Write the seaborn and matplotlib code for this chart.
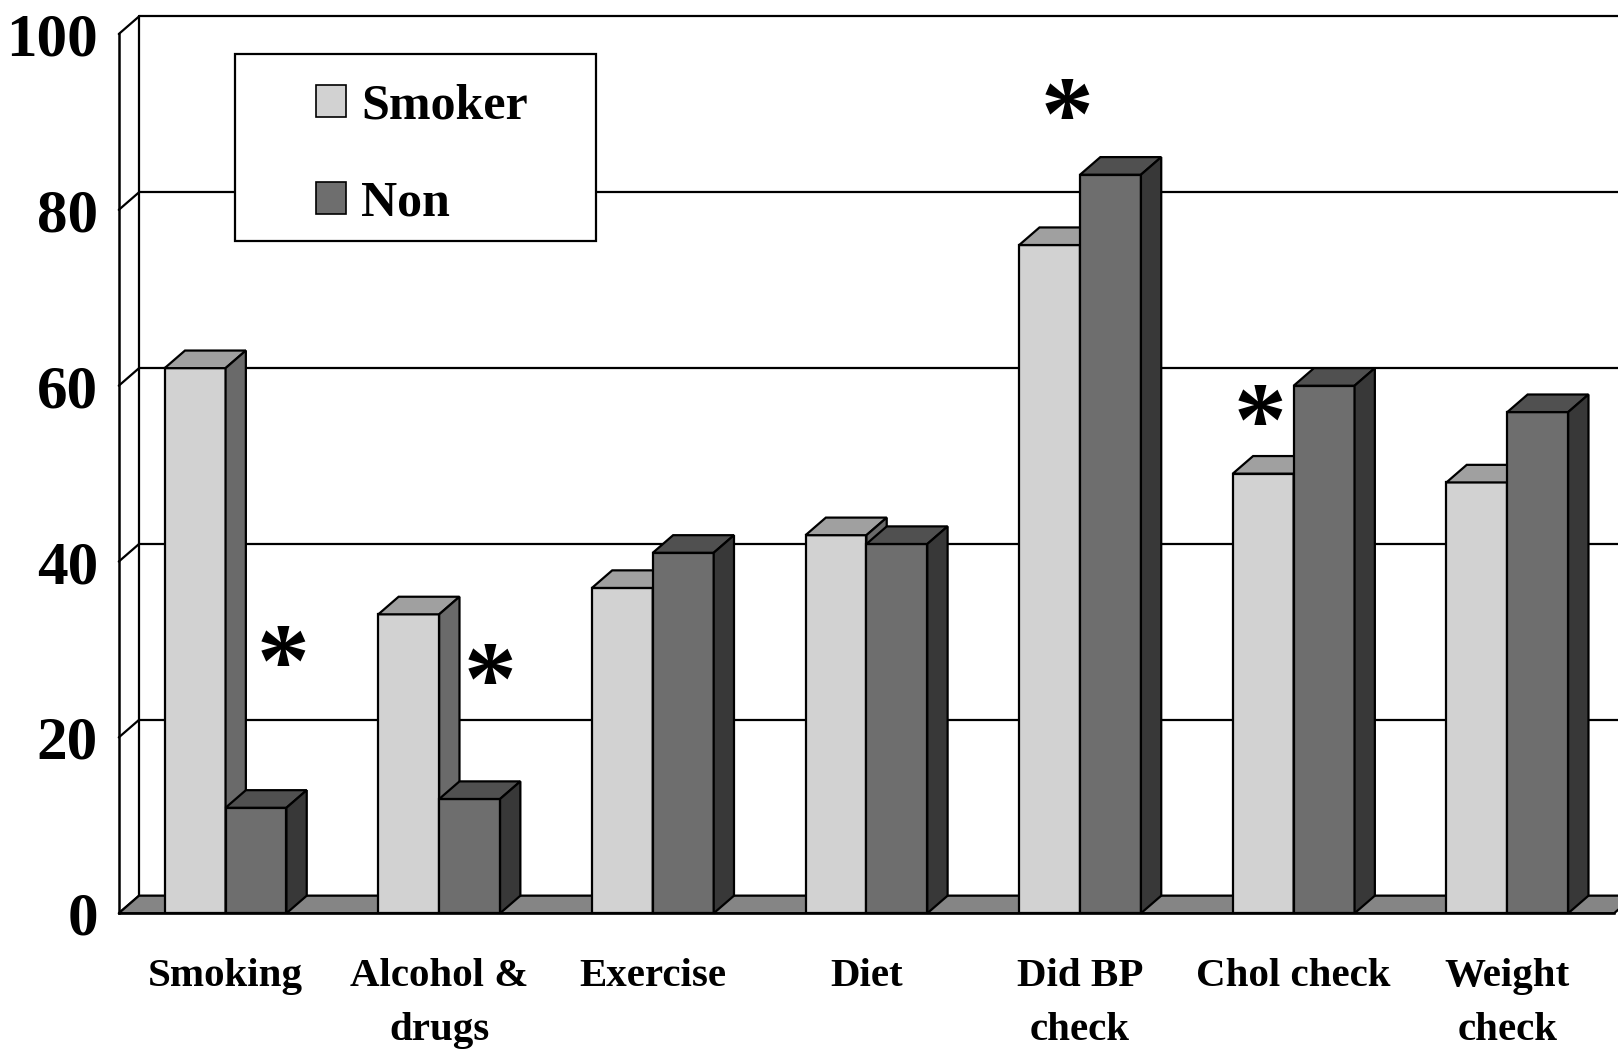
import matplotlib
matplotlib.use("Agg")
import matplotlib.pyplot as plt
import numpy as np
import pandas as pd
import seaborn as sns
from matplotlib.patches import Polygon, Rectangle, Patch

categories = ["Smoking", "Alcohol &\ndrugs", "Exercise", "Diet",
              "Did BP\ncheck", "Chol check", "Weight\ncheck"]
smoker = [62, 34, 37, 43, 76, 50, 49]
non = [12, 13, 41, 42, 84, 60, 57]
groups = ["Smoker", "Non"]
yticks = [0, 20, 40, 60, 80, 100]
# categories with a significant difference (asterisk)
significant = {"Smoking": (0.27, 27.6), "Alcohol &\ndrugs": (0.24, 25.6),
               "Did BP\ncheck": (-0.06, 89.8), "Chol check": (-0.16, 55)}

df = pd.DataFrame({
    "category": categories * 2,
    "group": [groups[0]] * len(categories) + [groups[1]] * len(categories),
    "value": smoker + non,
})

FONT = "Liberation Serif"
front = {"Smoker": "#d2d2d2", "Non": "#6e6e6e"}
top = {"Smoker": "#a0a0a0", "Non": "#505050"}
side = {"Smoker": "#6a6a6a", "Non": "#383838"}
dx, dy = 0.095, 2.0

sns.set_style("white")
plt.rcParams["font.family"] = [FONT, "DejaVu Sans"]
plt.rcParams.update({"text.color": "black", "xtick.color": "black",
                     "ytick.color": "black", "axes.edgecolor": "black",
                     "axes.labelcolor": "black"})

fig = plt.figure(figsize=(16.18, 10.53), dpi=100)
ax = fig.add_axes([0.0734, 0.1327, 0.9242, 0.835])

sns.barplot(data=df, x="category", y="value", hue="group",
            palette=[front["Smoker"], front["Non"]], width=0.57,
            saturation=1, edgecolor="black", linewidth=1.6,
            legend=False, ax=ax, zorder=3)

ax.set_xlim(-0.5, 6.5)
ax.set_ylim(0, 100)
n = len(categories)
x0, x1 = -0.5, n - 0.5

# back wall and floor
ax.add_patch(Polygon([(x0, 0), (x1, 0), (x1 + dx, dy), (x0 + dx, dy)],
                     closed=True, facecolor="#858585", edgecolor="black",
                     linewidth=1.6, zorder=1.5, clip_on=False))
for v in yticks:
    ax.plot([x0 + dx, x1 + dx], [v + dy, v + dy], color="black", lw=1.6,
            zorder=1, clip_on=False)
    ax.plot([x0, x0 + dx], [v, v + dy], color="black", lw=1.6, zorder=1,
            clip_on=False)
ax.plot([x0 + dx, x0 + dx], [dy, 100 + dy], color="black", lw=1.6, zorder=1,
        clip_on=False)

# 3D faces of each bar
for k, cont in enumerate(ax.containers):
    g = groups[k]
    for bar in cont:
        bx, bw, bh = bar.get_x(), bar.get_width(), bar.get_height()
        z = 3 + 2 * k
        bar.set_zorder(z)
        ax.add_patch(Polygon([(bx, bh), (bx + bw, bh), (bx + bw + dx, bh + dy),
                              (bx + dx, bh + dy)], closed=True,
                             facecolor=top[g], edgecolor="black", lw=1.6,
                             zorder=z + 0.5, clip_on=False))
        ax.add_patch(Polygon([(bx + bw, 0), (bx + bw + dx, dy),
                              (bx + bw + dx, bh + dy), (bx + bw, bh)],
                             closed=True, facecolor=side[g], edgecolor="black",
                             lw=1.6, zorder=z + 0.5, clip_on=False))

# asterisks
for i, c in enumerate(categories):
    if c in significant:
        off, yv = significant[c]
        ax.text(i + off, yv, "*", ha="center", va="center", fontsize=76,
                fontweight="bold", family=[FONT], zorder=10)

# axes
for s in ["top", "right"]:
    ax.spines[s].set_visible(False)
for s in ["left", "bottom"]:
    ax.spines[s].set_linewidth(1.8)
    ax.spines[s].set_zorder(8)
ax.set_yticks(yticks)
ax.set_yticklabels([str(v) for v in yticks], fontsize=44, fontweight="bold")
ax.tick_params(axis="y", length=8, width=1.8, pad=7)
ax.set_xticks(np.arange(n + 1) - 0.5)
ax.set_xticklabels([])
ax.tick_params(axis="x", which="major", length=14, width=1.8)
ax.set_xticks(np.arange(n), minor=True)
ax.set_xticklabels(categories, minor=True, fontsize=29.5, fontweight="bold",
                   linespacing=1.62)
ax.tick_params(axis="x", which="minor", length=0, pad=32)
ax.set_xlabel("")
ax.set_ylabel("")
ax.grid(False)

# legend box
fig.patches.append(Rectangle((0.1452, 0.7711), 0.2231, 0.1776,
                             transform=fig.transFigure, facecolor="white",
                             edgecolor="black", linewidth=1.6, zorder=2))
handles = [Patch(facecolor=front[g], edgecolor="black", lw=1.2) for g in groups]
leg = fig.legend(handles, groups, loc="center", bbox_to_anchor=(0.261, 0.853),
                 frameon=False, prop={"family": FONT, "weight": "bold", "size": 36},
                 handlelength=0.6, handleheight=0.6, handletextpad=0.3,
                 labelspacing=1.02)

fig.savefig("out.png", dpi=100)
